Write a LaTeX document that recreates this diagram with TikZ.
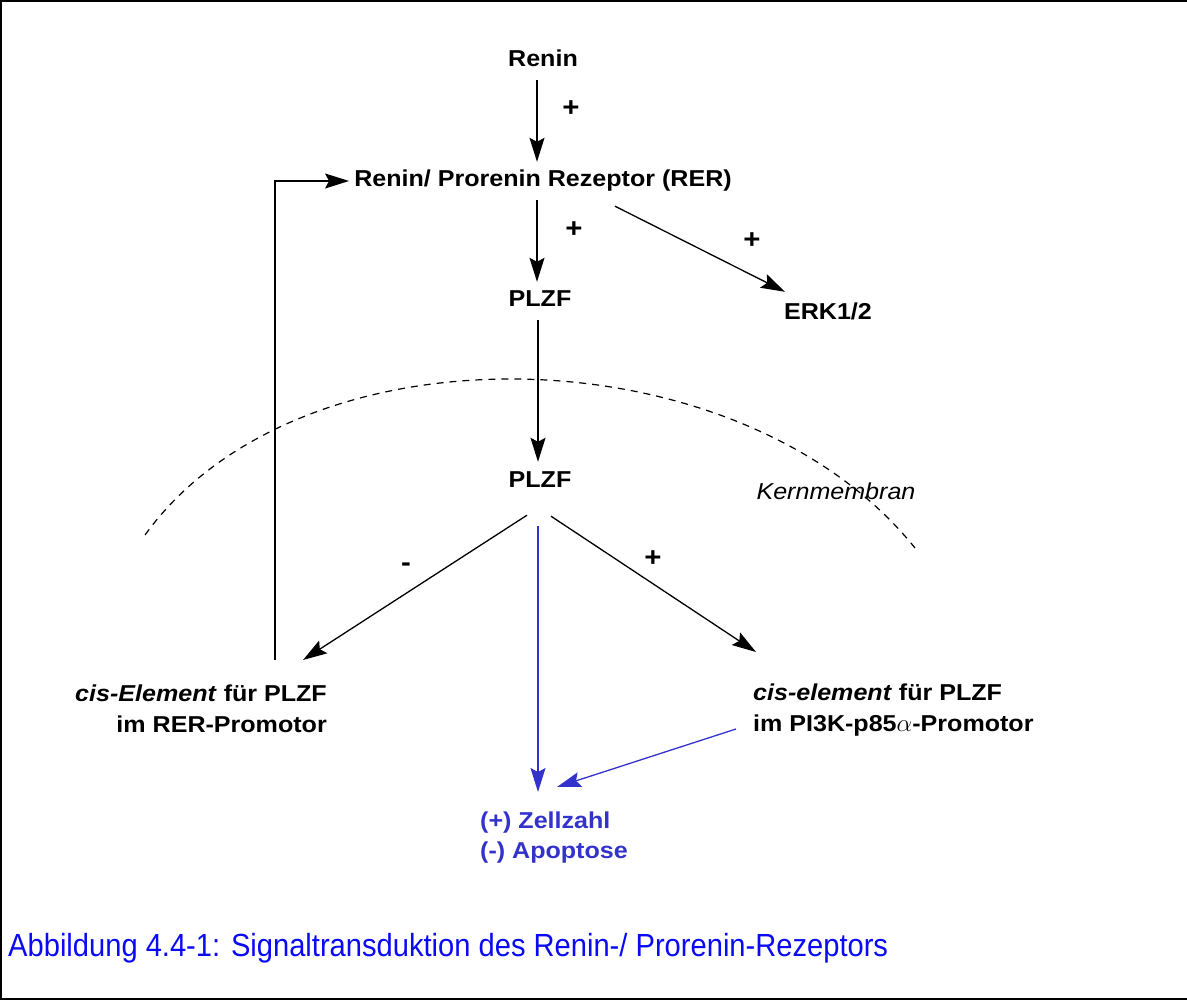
\documentclass[tikz,border=0pt]{standalone}
\usepackage{fontspec}
\setmainfont{Liberation Sans}
\newfontfamily\diagfont[FakeStretch=1.09]{Liberation Sans}
\newfontfamily\capfont[FakeStretch=0.91]{Liberation Sans}
\usetikzlibrary{arrows.meta,calc}
\definecolor{effblue}{RGB}{51,51,204}
\definecolor{capblue}{RGB}{10,10,245}
\tikzset{
	lbl/.style={font=\diagfont\fontsize{23}{31}\selectfont\bfseries, inner xsep=0pt, inner ysep=9pt},
	one/.style={anchor=base, text height=16pt, text depth=4pt},
	two/.style={inner sep=0pt},
	sign/.style={lbl, one, font=\diagfont\fontsize{27}{31}\selectfont\bfseries},
	arr/.style={line width=1.3pt, -{Stealth[length=24pt,width=15pt,inset=4pt]}},
}
\begin{document}
\begin{tikzpicture}[x=1pt,y=-1pt]
		\useasboundingbox (0,0) rectangle (1187,1000);
		\draw[line width=2.4pt] (1190,1) -- (1,1) -- (1,999) -- (1190,999);
		% kernmembran
		\draw[line width=1.2pt, dash pattern=on 7pt off 6pt] (145,535) .. controls (300,320) and (740,330) .. (915,548);
		\node[lbl, font=\diagfont\fontsize{23}{31}\selectfont\itshape, anchor=base] (kern) at (836,499) {Kernmembran};
		% nodes
		\node[lbl, one] (renin) at (543,67) {Renin};
		\node[lbl, one] (rer) at (543,187) {Renin/ Prorenin Rezeptor (RER)};
		\node[lbl, one] (plzfa) at (540,307) {PLZF};
		\node[lbl, one] (erk) at (828,320) {ERK1/2};
		\node[lbl, one] (plzfb) at (540,487) {PLZF};
		\node[lbl, two, align=right, anchor=north east] (cisl) at (327,685) {\textit{cis-Element} für PLZF\\im RER-Promotor};
		\node[lbl, two, align=left, anchor=north west] (cisr) at (753,684) {\textit{cis-element} für PLZF\\im PI3K-p85$\alpha$-Promotor};
		\node[lbl, two, align=left, anchor=north west, text=effblue, font=\diagfont\fontsize{23}{30}\selectfont\bfseries] (eff) at (480,812) {(+) Zellzahl\\(-) Apoptose};
		% signs
		\node[sign] (s1) at (571,117) {+};
		\node[sign] (s2) at (574,238) {+};
		\node[sign] (s3) at (752,249) {+};
		\node[sign] (s4) at (406,571) {-};
		\node[sign] (s5) at (653,566) {+};
		% arrows
		\draw[arr] ([xshift=-6pt]renin.south) -- ([xshift=-6pt]rer.north);
		\draw[arr] ([xshift=-6pt]rer.south) -- ([xshift=-3pt]plzfa.south |- plzfa.north);
		\draw[arr] ([xshift=72pt,yshift=-6pt]rer.south) -- ([xshift=-43pt,yshift=3pt]erk.north);
		\draw[arr] ([xshift=-2pt]plzfa.south) -- ([xshift=-2pt]plzfb.north);
		\draw[arr] ([xshift=-13pt,yshift=-15pt]plzfb.south) -- ([xshift=-24pt,yshift=25pt]cisl.north east);
		\draw[arr] ([xshift=11pt,yshift=-16pt]plzfb.south) -- ([xshift=3pt,yshift=32pt]cisr.north west);
		\draw[arr, shorten >=5pt] ([xshift=-52pt,yshift=25pt]cisl.north east) |- (rer.west);
		\draw[arr, effblue] ([xshift=-2pt,yshift=-26pt]plzfb.south) -- ([xshift=58pt,yshift=20pt]eff.north west);
		\draw[arr, effblue] ([xshift=-17pt,yshift=-45pt]cisr.north west) -- ([xshift=77pt,yshift=25pt]eff.north west);
		% caption
		\node[anchor=base west, inner sep=0pt, text=capblue, font=\capfont\fontsize{32}{36}\selectfont] (cap) at (8,956) {Abbildung 4.4-1: Signaltransduktion des Renin-/ Prorenin-Rezeptors};
\end{tikzpicture}
\end{document}
